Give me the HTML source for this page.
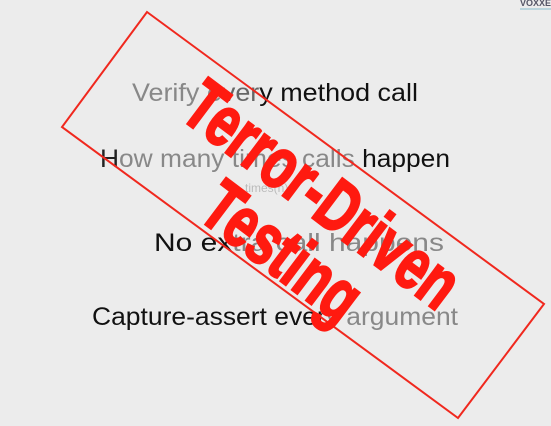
<!DOCTYPE html>
<html><head><meta charset="utf-8"><style>
html,body{margin:0;padding:0;background:#ececec;}
svg{display:block;}
</style></head><body>
<svg width="551" height="426" viewBox="0 0 551 426" xmlns="http://www.w3.org/2000/svg">
<rect width="551" height="426" fill="#ececec"/>
<text x="520" y="6" font-family="Liberation Sans, sans-serif" font-size="9" font-weight="bold" fill="#556">VOXXE</text>
<line x1="520" y1="9" x2="551" y2="9" stroke="#8bc" stroke-width="1"/>
<g font-family="Liberation Sans, sans-serif" font-size="25">
<text x="132" y="101" textLength="286" lengthAdjust="spacingAndGlyphs"><tspan fill="#888">Verify e</tspan><tspan fill="#666">ver</tspan><tspan fill="#111">y method call</tspan></text>
<text x="100" y="167" textLength="350" lengthAdjust="spacingAndGlyphs"><tspan fill="#222">H</tspan><tspan fill="#888">ow many times calls</tspan><tspan fill="#111"> happen</tspan></text>
<text x="245" y="192" font-size="12" fill="#bbb">times(n)</text>
<text x="154" y="251" textLength="290" lengthAdjust="spacingAndGlyphs"><tspan fill="#111">No ex</tspan><tspan fill="#888">tra call happens</tspan></text>
<text x="92" y="325" textLength="366" lengthAdjust="spacingAndGlyphs"><tspan fill="#111">Capture-assert ever</tspan><tspan fill="#888">y argument</tspan></text>
</g>
<polygon points="147,12 544,304 458,418 62,127" fill="none" stroke="#f0281e" stroke-width="2"/>
<g font-family="Liberation Sans, sans-serif" font-weight="bold" fill="#ff1a10" stroke="#ff1a10" stroke-width="2.5" font-size="72">
<text transform="translate(322,195) rotate(37)" text-anchor="middle" y="24" textLength="325" lengthAdjust="spacingAndGlyphs">Terror-Driven</text>
<text transform="translate(282,252) rotate(37)" text-anchor="middle" y="24" textLength="180" lengthAdjust="spacingAndGlyphs">Testing</text>
</g>
</svg>
</body></html>
